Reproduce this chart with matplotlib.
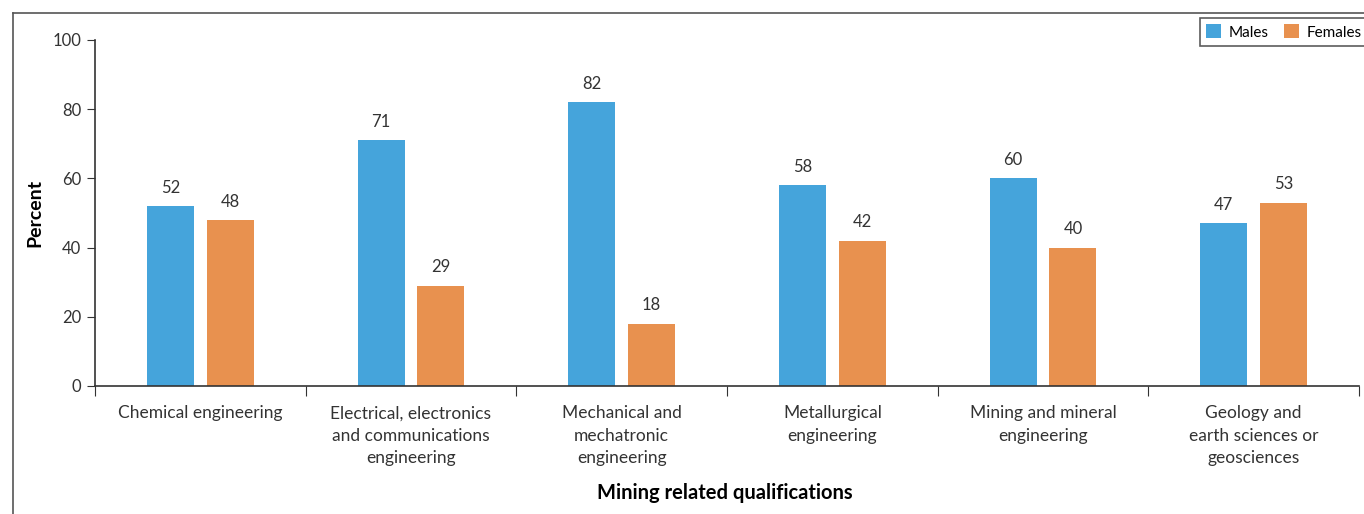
import numpy as np
import matplotlib
matplotlib.use("Agg")
from matplotlib import pyplot as plt
from matplotlib.lines import Line2D

categories = ["Chemical engineering",
              "Electrical, electronics\nand communications\nengineering",
              "Mechanical and\nmechatronic\nengineering",
              "Metallurgical\nengineering",
              "Mining and mineral\nengineering",
              "Geology and\nearth sciences or\ngeosciences"]
males = [52, 71, 82, 58, 60, 47]
females = [48, 29, 18, 42, 40, 53]
series_names = ["Males", "Females"]

plt.rcParams['font.family'] = ['Lato', 'DejaVu Sans']
blue = "#45A4DB"
orange = "#E8914F"
dark = "#333333"

fig = plt.figure(figsize=(13.64, 5.14), dpi=100)
ax = fig.add_axes([95 / 1364, 1 - 386 / 514, (1359 - 95) / 1364, (386 - 40) / 514])

x = np.arange(len(categories))
w = 0.223
off = 0.142
b1 = ax.bar(x - off, males, w, color=blue, label=series_names[0])
b2 = ax.bar(x + off, females, w, color=orange, label=series_names[1])

for bars, vals in [(b1, males), (b2, females)]:
    for r, v in zip(bars, vals):
        ax.text(r.get_x() + r.get_width() / 2, v + 3, str(v),
                ha="center", va="bottom", fontsize=12, color=dark)

ax.set_xlim(-0.5, len(categories) - 0.5)
ax.set_ylim(0, 100)
ax.set_yticks([0, 20, 40, 60, 80, 100])
ax.tick_params(axis="y", length=6, direction="out", labelsize=12,
               colors=dark, pad=4)
ax.set_xticks(np.arange(len(categories) + 1) - 0.5)
ax.set_xticklabels([])
ax.tick_params(axis="x", length=7, direction="out", colors=dark)
ax.set_xticks(x, minor=True)
ax.set_xticklabels(categories, minor=True, fontsize=12.5, color=dark,
                   linespacing=1.5, va="top")
ax.tick_params(axis="x", which="minor", length=0, pad=14)

for s in ["top", "right"]:
    ax.spines[s].set_visible(False)
for s in ["left", "bottom"]:
    ax.spines[s].set_color(dark)
    ax.spines[s].set_linewidth(1.2)

ax.set_ylabel("Percent", fontsize=14, fontweight="bold", color="black")
ax.yaxis.set_label_coords(-0.041, 0.5)
fig.text(725 / 1364, 1 - 493 / 514, "Mining related qualifications",
         ha="center", va="center", fontsize=14.5, fontweight="bold")

leg = ax.legend(loc="upper right", bbox_to_anchor=(1.012, 1.06 + 7 / 346), ncol=2,
                frameon=True, fancybox=False, fontsize=11, handlelength=1.0,
                handleheight=1.0, handletextpad=0.5, columnspacing=1.0,
                borderpad=0.4, borderaxespad=0.4)
leg.get_frame().set_edgecolor(dark)
leg.get_frame().set_linewidth(1.2)

# outer frame of the figure panel
fig.add_artist(Line2D([13 / 1364, 13 / 1364], [0, 1 - 13 / 514],
                      transform=fig.transFigure, color="#555555", lw=1.2))
fig.add_artist(Line2D([13 / 1364, 1], [1 - 13 / 514, 1 - 13 / 514],
                      transform=fig.transFigure, color="#555555", lw=1.2))

fig.savefig("out.png", dpi=100)
